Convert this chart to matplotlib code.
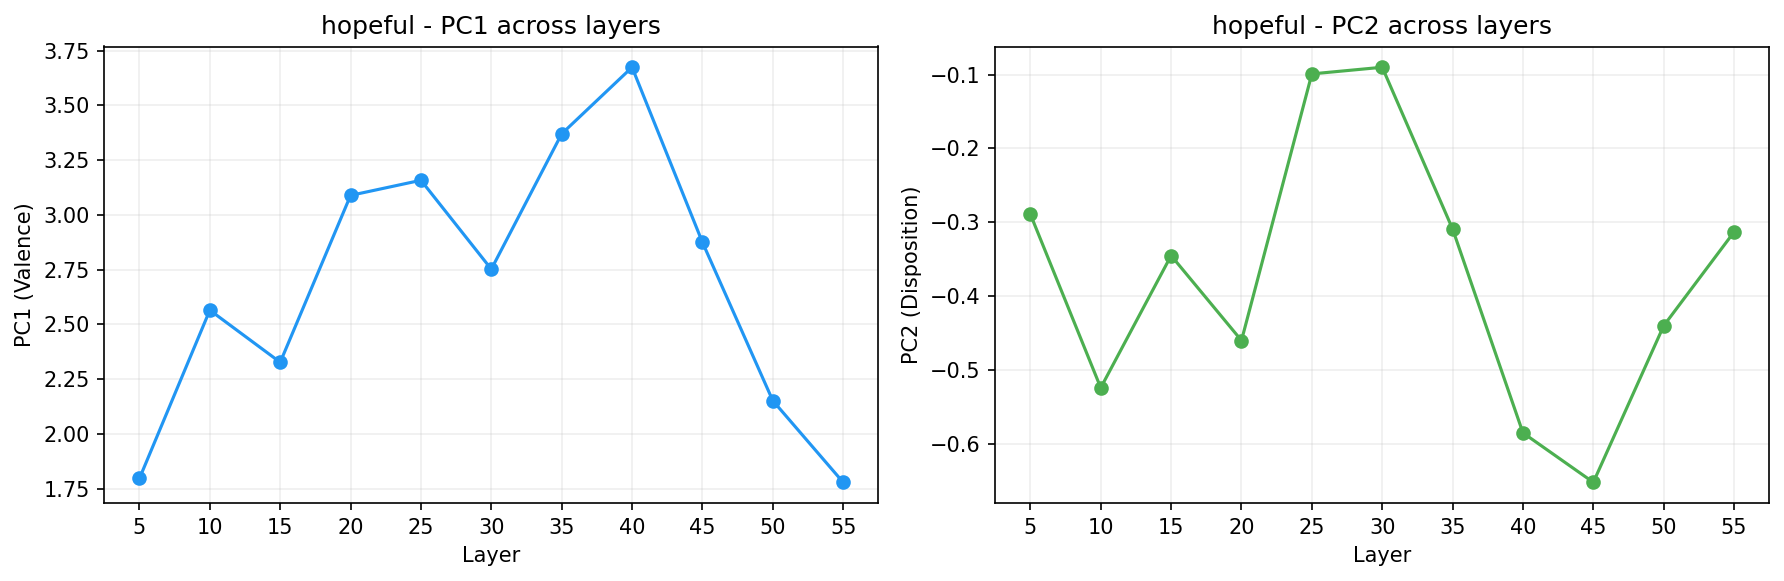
import matplotlib
matplotlib.use('Agg')
import matplotlib.pyplot as plt

layers = [5, 10, 15, 20, 25, 30, 35, 40, 45, 50, 55]
pc1 = [1.797, 2.565, 2.327, 3.089, 3.158, 2.752, 3.370, 3.674, 2.875, 2.152, 1.779]
pc2 = [-0.289, -0.524, -0.345, -0.460, -0.099, -0.090, -0.309, -0.585, -0.652, -0.440, -0.313]

fig, (ax1, ax2) = plt.subplots(1, 2, figsize=(12, 4))

ax1.plot(layers, pc1, 'o-', color='#2196F3', linewidth=1.5, markersize=6)
ax1.set_title('hopeful - PC1 across layers')
ax1.set_xlabel('Layer')
ax1.set_ylabel('PC1 (Valence)')
ax1.set_xticks(layers)
ax1.grid(True, alpha=0.2)

ax2.plot(layers, pc2, 'o-', color='#4CAF50', linewidth=1.5, markersize=6)
ax2.set_title('hopeful - PC2 across layers')
ax2.set_xlabel('Layer')
ax2.set_ylabel('PC2 (Disposition)')
ax2.set_xticks(layers)
ax2.grid(True, alpha=0.2)

plt.tight_layout()
fig.savefig('out.png', dpi=150, bbox_inches='tight')
